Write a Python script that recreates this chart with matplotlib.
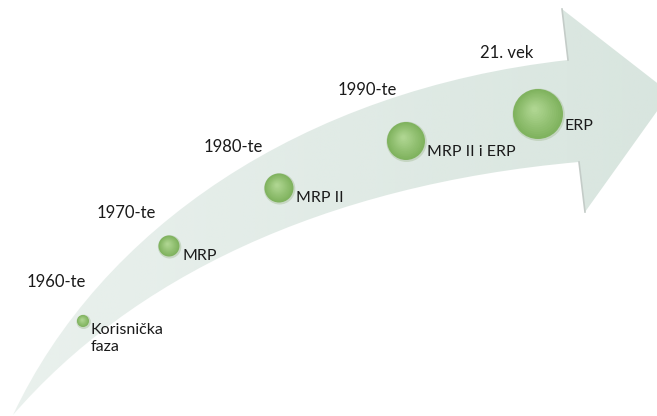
import numpy as np
import matplotlib
matplotlib.use('Agg')
import matplotlib.pyplot as plt
from matplotlib.path import Path
from matplotlib.patches import PathPatch, Circle

# data
decades = ['1960-te', '1970-te', '1980-te', '1990-te', '21. vek']
phases = ['Korisnička\nfaza', 'MRP', 'MRP II', 'MRP II i ERP', 'ERP']
bubble_r = [6, 10.5, 14.5, 19, 25]

# layout (pixel coords, y down)
bubble_xy = [(83, 321), (169, 246), (279, 188), (406, 141), (538, 114)]
decade_xy = [(27, 282), (97, 213), (204, 147), (338, 90), (480, 53)]
phase_xy = [(91, 331), (182, 257), (296, 198), (427, 153), (565, 127)]

txt_col = '#1a1a1a'
plt.rcParams['font.family'] = ['Lato', 'DejaVu Sans']

fig = plt.figure(figsize=(6.57, 4.16), dpi=100, facecolor='white')
ax = fig.add_axes([0, 0, 1, 1])
ax.set_xlim(0, 657)
ax.set_ylim(416, 0)
ax.axis('off')

# ── curved arrow ──────────────────────────────────────────────────────
verts = [
    (13, 415),
    (100, 230), (300, 90), (568, 60),      # upper edge
    (562, 9),                               # head top corner
    (670, 93),                              # tip
    (585, 212),                             # head lower corner
    (579, 162),                             # notch
    (320, 185), (130, 280), (13, 415),      # lower edge back to tail
    (13, 415),
]
codes = [Path.MOVETO,
         Path.CURVE4, Path.CURVE4, Path.CURVE4,
         Path.LINETO, Path.LINETO, Path.LINETO, Path.LINETO,
         Path.CURVE4, Path.CURVE4, Path.CURVE4,
         Path.CLOSEPOLY]
arrow = PathPatch(Path(verts, codes), facecolor='none', edgecolor='none')
ax.add_patch(arrow)

gx = np.linspace(0, 1, 300)
grad = np.zeros((2, 300, 4))
grad[..., 0] = 0xd5 / 255
grad[..., 1] = 0xe3 / 255
grad[..., 2] = 0xdc / 255
grad[..., 3] = 0.5 + 0.42 * gx
im = ax.imshow(grad, extent=[0, 657, 416, 0], aspect='auto', zorder=1,
               interpolation='bilinear')
im.set_clip_path(arrow)

# shadow lines at back of arrow head
ax.plot([562, 568], [9, 60], color='#c4ccc8', lw=1.2, zorder=2)
ax.plot([579, 585], [162, 212], color='#c4ccc8', lw=1.2, zorder=2)

# ── bubbles ───────────────────────────────────────────────────────────
for (cx, cy), r in zip(bubble_xy, bubble_r):
    ax.add_patch(Circle((cx + 0.6, cy + 0.8), r + 1.2, facecolor='#b5c9ac',
                        edgecolor='none', alpha=0.6, zorder=3))
    ax.add_patch(Circle((cx, cy), r, facecolor='#80b35f', edgecolor='none',
                        zorder=4))
    n = 12
    for k in range(1, n + 1):
        f = 1 - k / (n + 1)
        col = np.array([0x80, 0xb3, 0x5f]) * f + np.array([0xb2, 0xd8, 0x94]) * (1 - f)
        ax.add_patch(Circle((cx - 0.15 * r * (1 - f), cy - 0.2 * r * (1 - f)),
                            r * (0.93 * f + 0.05), facecolor=col / 255,
                            edgecolor='none', zorder=4))

# ── labels ────────────────────────────────────────────────────────────
for (x, y), s in zip(decade_xy, decades):
    ax.text(x, y, s, fontsize=12, color=txt_col, ha='left', va='center', zorder=5)

for (x, y), s in zip(phase_xy, phases):
    ax.text(x, y - 7.5, s, fontsize=11.5, color=txt_col, ha='left', va='top',
            linespacing=1.25, zorder=5)

fig.savefig('out.png', dpi=100, facecolor='white')
